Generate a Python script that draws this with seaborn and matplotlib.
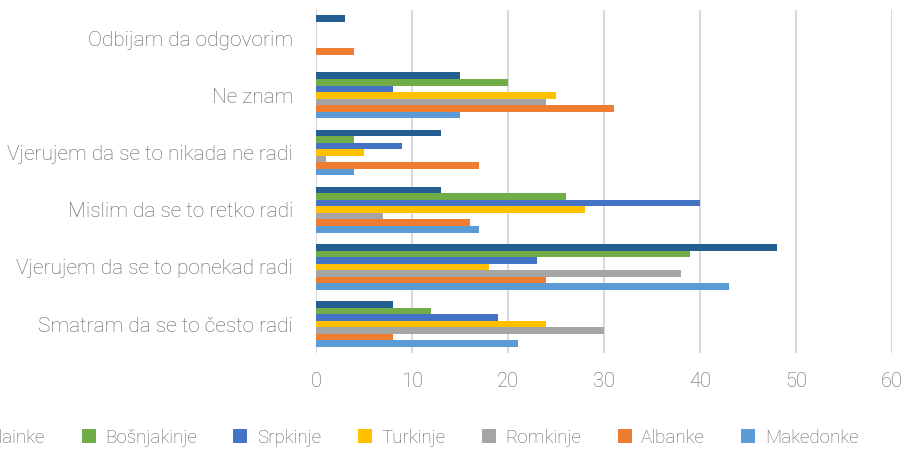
import matplotlib
matplotlib.use("Agg")
import matplotlib.pyplot as plt
import seaborn as sns
import pandas as pd
from matplotlib.patches import Patch

categories = [
    "Odbijam da odgovorim",
    "Ne znam",
    "Vjerujem da se to nikada ne radi",
    "Mislim da se to retko radi",
    "Vjerujem da se to ponekad radi",
    "Smatram da se to često radi",
]

series_names = ["Vlainke", "Bošnjakinje", "Srpkinje", "Turkinje",
                "Romkinje", "Albanke", "Makedonke"]

vlainke = [3, 15, 13, 13, 48, 8]
bosnjakinje = [0, 20, 4, 26, 39, 12]
srpkinje = [0, 8, 9, 40, 23, 19]
turkinje = [0, 25, 5, 28, 18, 24]
romkinje = [0, 24, 1, 7, 38, 30]
albanke = [4, 31, 17, 16, 24, 8]
makedonke = [0, 15, 4, 17, 43, 21]

colors = ["#255E91", "#70AD47", "#4472C4", "#FFC000",
          "#A5A5A5", "#ED7D31", "#5B9BD5"]

values = [vlainke, bosnjakinje, srpkinje, turkinje, romkinje, albanke, makedonke]
rows = []
for name, vals in zip(series_names, values):
    for cat, v in zip(categories, vals):
        rows.append({"odgovor": cat, "grupa": name, "procenat": v})
df = pd.DataFrame(rows)

sns.set_theme(style="white")
plt.rcParams["font.family"] = ["Roboto", "DejaVu Sans"]

text_color = "#5f5f5f"

fig = plt.figure(figsize=(9.10, 4.49), dpi=100)
ax = fig.add_axes([316 / 910, 96.4 / 449, 576 / 910, 343 / 449])

sns.barplot(data=df, y="odgovor", x="procenat", hue="grupa",
            order=categories, hue_order=series_names, palette=colors,
            orient="h", width=0.8, ax=ax, legend=False,
            edgecolor="none", linewidth=0, saturation=1)

ax.set_xlim(0, 60)
ax.set_xticks(range(0, 61, 10))
ax.grid(axis="x", color="#d9d9d9", linewidth=1.5)
ax.set_axisbelow(True)
for s in ax.spines.values():
    s.set_visible(False)
ax.set_xlabel("")
ax.set_ylabel("")
ax.tick_params(axis="x", colors=text_color, labelsize=14.5, length=0, pad=14)
ax.tick_params(axis="y", colors=text_color, labelsize=15, length=0, pad=16.5)
for lab in ax.get_yticklabels() + ax.get_xticklabels():
    lab.set_fontweight("light")

# legend runs wider than the figure, so its first entry is clipped at the left edge
handles = [Patch(facecolor=c, edgecolor="none") for c in colors]
leg = fig.legend(handles, series_names, loc="center",
                 bbox_to_anchor=(0.452, 0.025), ncol=7, frameon=False,
                 fontsize=13.5, handlelength=0.75, handleheight=0.75,
                 handletextpad=0.5, columnspacing=1.95)
for t in leg.get_texts():
    t.set_color(text_color)
    t.set_fontweight("light")

fig.savefig("out.png", dpi=100)
